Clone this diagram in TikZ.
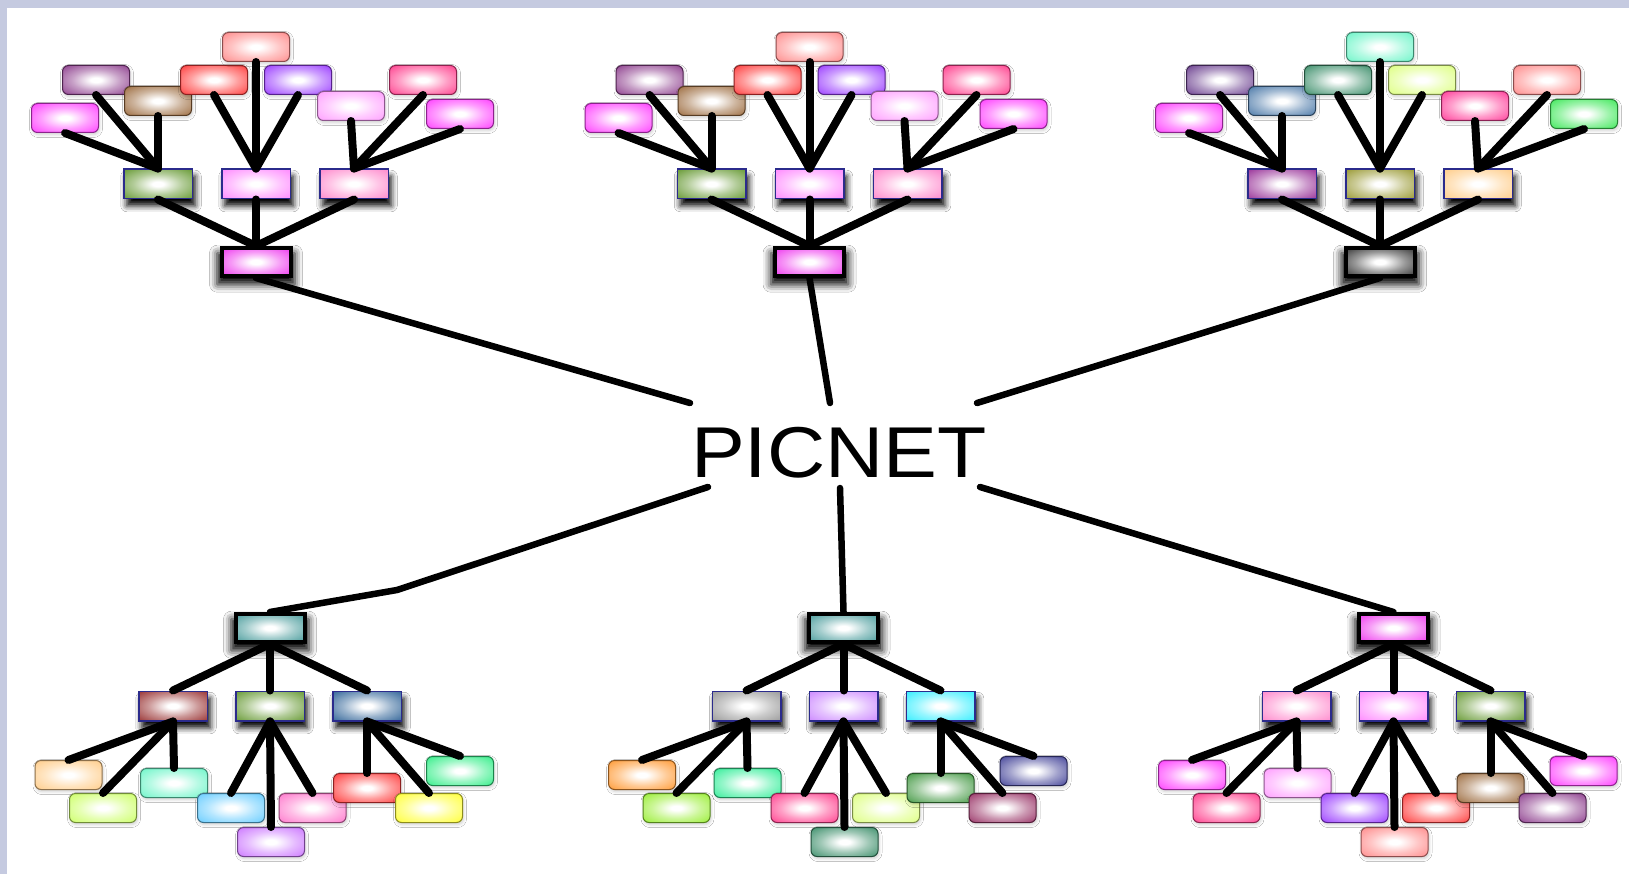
\documentclass[tikz,border=0pt]{standalone}
\usepackage{fontspec}
\setmainfont{Liberation Sans}
\usetikzlibrary{shadows.blur}

% box colours
\definecolor{framecol}{HTML}{C5CAE0}
\definecolor{midline}{HTML}{2B2B8C}
\definecolor{magL}{HTML}{FF3DFF}
\definecolor{purpL}{HTML}{8E3F8E}
\definecolor{brownL}{HTML}{9C6B3E}
\definecolor{redL}{HTML}{FF3B3B}
\definecolor{salmonL}{HTML}{FF8A8A}
\definecolor{violetL}{HTML}{9A3CFF}
\definecolor{lpinkL}{HTML}{FF9CFF}
\definecolor{roseL}{HTML}{FF3D8C}
\definecolor{dpurpL}{HTML}{6B3F8F}
\definecolor{steelL}{HTML}{4A78A8}
\definecolor{seaL}{HTML}{3D8F6B}
\definecolor{aquaL}{HTML}{6CF5C8}
\definecolor{limeyL}{HTML}{DDFF80}
\definecolor{hotpinkL}{HTML}{FF3D99}
\definecolor{greenL}{HTML}{3FE85A}
\definecolor{peachL}{HTML}{FFCC88}
\definecolor{ygL}{HTML}{CCFF66}
\definecolor{skyL}{HTML}{66CCFF}
\definecolor{lavL}{HTML}{CC77FF}
\definecolor{pinkL}{HTML}{FF77CC}
\definecolor{yellowL}{HTML}{FFFF33}
\definecolor{mintL}{HTML}{33EE88}
\definecolor{orangeL}{HTML}{FF9933}
\definecolor{limeL}{HTML}{99EE33}
\definecolor{springL}{HTML}{33EE99}
\definecolor{leafgreenL}{HTML}{449944}
\definecolor{maroonL}{HTML}{993366}
\definecolor{navyL}{HTML}{444499}
\definecolor{oliveM}{HTML}{669933}
\definecolor{pinkM}{HTML}{FF88FF}
\definecolor{roseM}{HTML}{FF88CC}
\definecolor{plumM}{HTML}{993399}
\definecolor{khakiM}{HTML}{999933}
\definecolor{peachM}{HTML}{FFCC88}
\definecolor{rustM}{HTML}{993333}
\definecolor{blueM}{HTML}{336699}
\definecolor{greyM}{HTML}{999999}
\definecolor{lavM}{HTML}{CC88FF}
\definecolor{cyanM}{HTML}{33EEFF}
\definecolor{magR}{HTML}{EE33EE}
\definecolor{darkR}{HTML}{333333}
\definecolor{tealR}{HTML}{449999}

\colorlet{boxtint}{white}
\pgfdeclareradialshading[boxtint]{glow}{\pgfpoint{0bp}{0bp}}{%
  color(0bp)=(white); color(4bp)=(white); color(18bp)=(boxtint!50!white);
  color(36bp)=(boxtint); color(75bp)=(boxtint)}

% #1 prefix, #2 x of root, #3 root colour, #4 middle colours, #5 leaf colours
\newcommand\toptree[5]{%
  \begin{scope}[shift={(#2,262)}]
    \node[rootbox=#3] (#1R) at (0,0) {};
    \foreach \c [count=\i] in {#4}
      \node[midbox=\c] (#1M\i) at ({98*(\i-2)},-78) {};
    \foreach \c [count=\i] in {#5} {
      \pgfmathsetmacro\lx{{-191,-160,-98,-42,0,42,95,167,204}[\i-1]}
      \pgfmathsetmacro\ly{{-144,-182,-161,-182,-215,-182,-156,-182,-148}[\i-1]}
      \node[leafbox=\c] (#1L\i) at (\lx,\ly) {};
    }
  \end{scope}
  \foreach \i in {1,...,9} {
    \pgfmathtruncatemacro\m{(\i+2)/3}
    \draw[branch] (#1L\i.south) -- (#1M\m.north);
  }
  \foreach \i in {1,2,3}
    \draw[branch] (#1M\i.south) -- (#1R.north);
}
\newcommand\bottomtree[5]{%
  \begin{scope}[shift={(#2,628)}]
    \node[rootbox=#3] (#1R) at (0,0) {};
    \foreach \c [count=\i] in {#4}
      \node[midbox=\c] (#1M\i) at ({97*(\i-2)},78) {};
    \foreach \c [count=\i] in {#5} {
      \pgfmathsetmacro\lx{{-201.5,-167,-96,-39,1,42.5,97,159,190}[\i-1]}
      \pgfmathsetmacro\ly{{147,180,155,180,214,180,160,180,143}[\i-1]}
      \node[leafbox=\c] (#1L\i) at (\lx,\ly) {};
    }
  \end{scope}
  \foreach \i in {1,...,9} {
    \pgfmathtruncatemacro\m{(\i+2)/3}
    \draw[branch] (#1M\m.south) -- (#1L\i.north);
  }
  \foreach \i in {1,2,3}
    \draw[branch] (#1R.south) -- (#1M\i.north);
}

\begin{document}
\begin{tikzpicture}
  [x=1pt,y=-1pt,
   tint/.style={/utils/exec={\colorlet{boxtint}{#1}},shading=glow},
   leafbox/.style={tint=#1,draw=#1!55!black,line width=1pt,rounded corners=6pt,
     minimum width=67pt,minimum height=29pt,inner sep=0pt,
     blur shadow={shadow xshift=1pt,shadow yshift=-2pt,shadow blur radius=3pt,shadow opacity=20}},
   midbox/.style={tint=#1,draw=midline,line width=1.5pt,
     minimum width=68.5pt,minimum height=29.5pt,inner sep=0pt,
     blur shadow={shadow xshift=3pt,shadow yshift=-7pt,shadow blur radius=6pt,shadow opacity=100}},
   rootbox/.style={tint=#1,draw=black,line width=4pt,
     minimum width=69pt,minimum height=28pt,inner sep=0pt,
     blur shadow={shadow xshift=0pt,shadow yshift=-6pt,shadow scale=1.12,shadow blur radius=7pt,shadow opacity=100}},
   branch/.style={line width=8pt,line cap=round},
   spoke/.style={line width=6.5pt,line cap=round,line join=round}]

  \useasboundingbox (0,0) rectangle (1629,874);
  \fill[framecol] (0,0) rectangle (1629,874);
  \fill[white] (7,8) rectangle (1629,874);

  \toptree{a}{256}{magR}{oliveM,pinkM,roseM}
    {magL,purpL,brownL,redL,salmonL,violetL,lpinkL,roseL,magL}
  \toptree{b}{809.5}{magR}{oliveM,pinkM,roseM}
    {magL,purpL,brownL,redL,salmonL,violetL,lpinkL,roseL,magL}
  \toptree{c}{1380}{darkR}{plumM,khakiM,peachM}
    {magL,dpurpL,steelL,seaL,aquaL,limeyL,hotpinkL,salmonL,greenL}
  \bottomtree{d}{270}{tealR}{rustM,oliveM,blueM}
    {peachL,ygL,aquaL,skyL,lavL,pinkL,redL,yellowL,mintL}
  \bottomtree{e}{843.5}{tealR}{greyM,lavM,cyanM}
    {orangeL,limeL,springL,roseL,seaL,limeyL,leafgreenL,maroonL,navyL}
  \bottomtree{f}{1393.5}{magR}{roseM,pinkM,oliveM}
    {magL,roseL,lpinkL,violetL,salmonL,redL,brownL,purpL,magL}

  \node[font=\fontsize{72}{72}\selectfont] (pic) at (839,452.5) {\scalebox{1.12}[1]{PICNET}};

  \coordinate (hA) at (690,403);
  \coordinate (hB) at (830,403);
  \coordinate (hC) at (977,403);
  \coordinate (hD) at (708,487);
  \coordinate (hE) at (840,488);
  \coordinate (hF) at (980,487);
  \coordinate (kD) at (397,590);

  \draw[spoke] (aR.south) -- (hA);
  \draw[spoke] (bR.south) -- (hB);
  \draw[spoke] (cR.south) -- (hC);
  \draw[spoke] (dR.north) -- (kD) -- (hD);
  \draw[spoke] (eR.north) -- (hE);
  \draw[spoke] (fR.north) -- (hF);

\end{tikzpicture}
\end{document}
